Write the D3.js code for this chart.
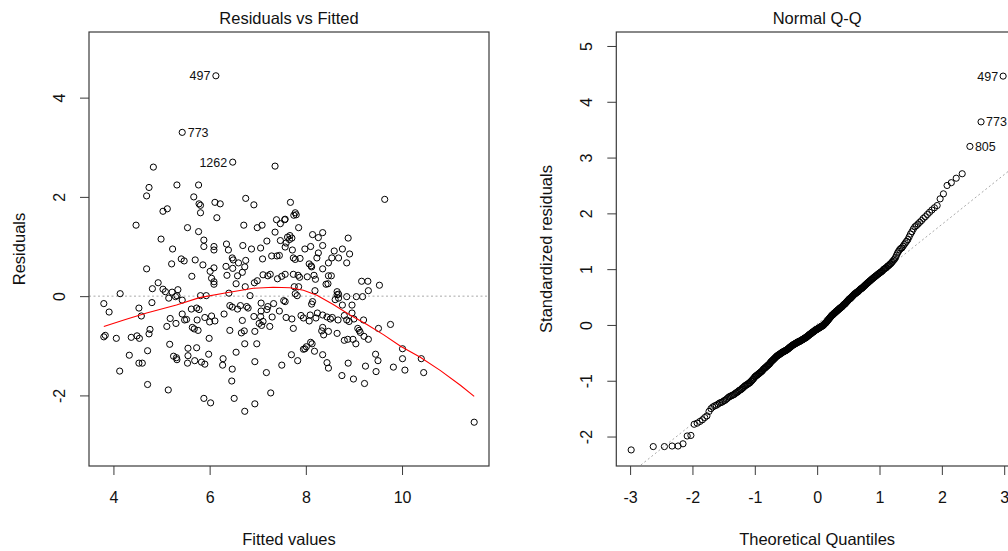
<!DOCTYPE html>
<html>
<head>
<meta charset="utf-8">
<script src="https://cdn.jsdelivr.net/npm/d3@7"></script>
<style>
  html, body { margin: 0; padding: 0; background: #fff; }
  svg { display: block; font-family: "Liberation Sans", Arial, sans-serif; }
</style>
</head>
<body>
<svg id="chart" width="1008" height="551"></svg>
<script>
// ---- Residuals vs Fitted: one entry per observation ----
const fittedValues = [
  6.13, 5.43, 6.48, 4.83, 7.36, 5.32, 5.77, 4.74, 4.69, 5.67, 9.64, 6.75, 5.78, 5.81, 5.81, 6.11,
  6.22, 6.92, 7.68, 5.03, 5.12, 6.15, 7.78, 7.80, 7.75, 7.57, 7.39, 7.56, 7.47, 4.47, 5.54, 6.71,
  6.99, 7.09, 7.85, 5.77, 7.36, 7.67, 7.71, 7.62, 7.66, 8.14, 8.35, 8.26, 8.88, 4.99, 5.88, 7.19,
  7.47, 7.59, 5.88, 6.09, 6.09, 6.35, 6.39, 6.69, 6.87, 7.06, 5.23, 7.98, 8.10, 8.35, 7.57, 7.72,
  8.59, 8.76, 8.91, 8.26, 7.29, 7.40, 7.45, 8.23, 7.74, 7.78, 7.88, 8.54, 8.68, 5.41, 5.70, 7.10,
  6.47, 6.49, 6.75, 5.47, 5.21, 5.86, 6.34, 6.48, 6.60, 6.73, 4.69, 6.09, 6.01, 6.68, 5.63, 6.36,
  6.58, 7.11, 7.21, 7.26, 7.41, 7.50, 7.57, 8.85, 8.47, 8.35, 8.07, 8.11, 8.12, 7.74, 7.84, 7.87,
  8.03, 8.17, 8.20, 8.47, 8.53, 6.04, 6.09, 6.09, 4.93, 6.55, 6.74, 6.99, 6.93, 8.42, 8.46, 9.16,
  9.29, 9.53, 4.81, 5.03, 5.08, 5.22, 5.34, 5.32, 9.30, 8.65, 8.68, 8.19, 7.76, 7.85, 7.78, 7.82,
  4.14, 6.40, 6.84, 5.81, 8.85, 9.05, 9.18, 8.61, 8.68, 8.65, 3.80, 3.91, 4.53, 4.58, 4.80, 5.15,
  5.29, 5.43, 5.93, 5.73, 5.78, 5.62, 5.43, 5.48, 5.52, 5.18, 5.30, 5.11, 5.90, 6.04, 6.00, 6.11,
  5.74, 5.64, 5.68, 5.76, 6.30, 6.42, 6.47, 6.58, 6.64, 6.77, 6.80, 6.42, 6.68, 6.92, 7.06, 7.03,
  7.08, 7.11, 7.25, 7.30, 7.07, 7.19, 7.21, 7.07, 7.33, 7.45, 7.54, 7.57, 7.59, 7.71, 7.90, 7.95,
  8.09, 8.07, 8.21, 8.24, 8.35, 8.44, 8.51, 8.55, 8.67, 8.80, 8.85, 8.90, 8.96, 9.00, 8.76, 8.96,
  8.14, 8.12, 9.20, 7.74, 8.35, 8.33, 9.08, 9.11, 9.51, 9.76, 9.13, 8.65, 8.47, 3.80, 3.83, 4.06,
  4.37, 4.49, 4.54, 4.74, 4.76, 4.71, 4.33, 4.53, 4.60, 5.17, 5.25, 5.31, 5.32, 5.55, 5.55, 5.54,
  5.73, 5.69, 5.83, 5.90, 5.98, 5.99, 6.28, 6.27, 6.47, 6.55, 6.73, 6.98, 6.94, 7.18, 7.50, 6.66,
  6.72, 6.94, 7.70, 7.83, 7.98, 7.95, 8.01, 8.13, 8.10, 8.18, 8.35, 8.44, 8.47, 8.75, 8.88, 8.99,
  9.22, 9.24, 9.45, 9.50, 9.46, 9.82, 10.01, 10.01, 10.06, 10.40, 10.45, 8.37, 8.80, 8.87, 8.98, 9.04,
  9.21, 9.30, 4.13, 4.71, 5.14, 6.46, 5.88, 6.02, 6.51, 6.73, 6.94, 7.27, 11.50
];
const residualValues = [
  4.44, 3.30, 2.70, 2.60, 2.62, 2.24, 2.24, 2.19, 2.02, 2.00, 1.95, 1.97, 1.86, 1.83, 1.68, 1.89,
  1.86, 1.84, 1.89, 1.71, 1.76, 1.58, 1.68, 1.64, 1.63, 1.55, 1.54, 1.54, 1.46, 1.43, 1.38, 1.43,
  1.38, 1.43, 1.38, 1.30, 1.29, 1.22, 1.17, 1.19, 1.14, 1.24, 1.28, 1.18, 1.17, 1.15, 1.13, 1.11,
  1.12, 1.07, 1.00, 1.00, 0.93, 1.05, 0.93, 1.02, 0.95, 0.97, 0.95, 0.95, 1.00, 1.02, 0.99, 0.93,
  0.91, 0.95, 0.85, 0.87, 0.81, 0.81, 0.82, 0.77, 0.77, 0.74, 0.76, 0.77, 0.77, 0.75, 0.73, 0.75,
  0.77, 0.73, 0.72, 0.71, 0.65, 0.63, 0.60, 0.56, 0.67, 0.59, 0.55, 0.57, 0.50, 0.48, 0.40, 0.42,
  0.41, 0.43, 0.41, 0.44, 0.35, 0.40, 0.44, 0.67, 0.67, 0.55, 0.65, 0.61, 0.59, 0.44, 0.42, 0.38,
  0.39, 0.42, 0.34, 0.41, 0.41, 0.36, 0.29, 0.24, 0.27, 0.25, 0.19, 0.31, 0.27, 0.24, 0.25, 0.30,
  0.30, 0.22, 0.15, 0.14, 0.09, 0.08, 0.13, 0.01, 0.11, 0.09, 0.04, 0.11, 0.19, 0.19, 0.05, 0.01,
  0.05, 0.06, 0.01, 0.01, -0.01, -0.01, -0.01, -0.07, -0.04, 0.03, -0.15, -0.32, -0.24, -0.40, -0.13, -0.04,
  -0.01, -0.08, 0.01, -0.24, -0.27, -0.26, -0.36, -0.48, -0.47, -0.45, -0.55, -0.61, -0.43, -0.40, -0.52, -0.50,
  -0.48, -0.63, -0.66, -0.69, -0.36, -0.19, -0.22, -0.26, -0.19, -0.21, -0.24, -0.69, -0.49, -0.41, -0.41, -0.55,
  -0.59, -0.51, -0.61, -0.42, -0.30, -0.27, -0.21, -0.14, -0.15, -0.30, -0.09, -0.11, -0.43, -0.46, -0.39, -0.44,
  -0.38, -0.50, -0.44, -0.34, -0.38, -0.42, -0.46, -0.43, -0.48, -0.39, -0.48, -0.51, -0.34, -0.46, -0.18, -0.18,
  -0.11, -0.16, -0.48, -0.65, -0.63, -0.70, -0.65, -0.69, -0.65, -0.57, -0.73, -0.75, -0.71, -0.82, -0.79, -0.85,
  -0.83, -0.80, -0.85, -0.76, -0.67, -1.10, -1.19, -1.35, -1.35, -0.97, -1.21, -1.24, -1.28, -1.05, -1.20, -1.35,
  -1.04, -1.30, -1.33, -1.37, -1.17, -0.85, -1.26, -1.39, -1.47, -1.13, -0.96, -0.96, -1.32, -1.54, -1.39, -0.74,
  -0.70, -0.71, -1.18, -1.30, -1.06, -1.07, -1.02, -0.96, -0.93, -1.11, -1.18, -1.34, -1.45, -1.60, -1.35, -1.67,
  -1.76, -1.41, -1.17, -1.30, -1.52, -1.43, -1.06, -1.26, -1.49, -1.26, -1.54, -0.78, -0.89, -0.87, -0.87, -0.96,
  -0.81, -0.87, -1.51, -1.78, -1.89, -1.71, -2.06, -2.15, -2.06, -2.32, -2.17, -1.95, -2.54
];
// observations flagged with their row names (indices into the arrays above)
const fittedLabelIndex = [0, 1, 2];
const fittedLabelText = ["497", "773", "1262"];

// smoothed trend through the residuals
const smoothFitted = [3.80, 4.25, 4.69, 5.31, 5.79, 6.35, 6.91, 7.32, 7.67, 7.95, 8.23, 8.57, 8.92, 9.27, 9.62, 9.97, 10.38, 10.80, 11.22, 11.50];
const smoothResidual = [-0.61, -0.47, -0.34, -0.18, -0.03, 0.07, 0.16, 0.18, 0.17, 0.12, 0.02, -0.17, -0.38, -0.57, -0.78, -1.01, -1.23, -1.50, -1.80, -2.02];

// ---- Normal Q-Q: sorted standardized residuals ----
const standardizedResiduals = [
  -2.24, -2.18, -2.18, -2.17, -2.17, -2.13, -1.99, -1.98, -1.78, -1.76,
  -1.73, -1.70, -1.66, -1.63, -1.55, -1.50, -1.47, -1.45, -1.44, -1.42,
  -1.40, -1.39, -1.38, -1.36, -1.35, -1.33, -1.31, -1.29, -1.28, -1.27,
  -1.26, -1.25, -1.24, -1.22, -1.21, -1.20, -1.18, -1.17, -1.16, -1.15,
  -1.13, -1.12, -1.10, -1.09, -1.08, -1.07, -1.06, -1.05, -1.04, -1.03,
  -1.01, -1.00, -0.98, -0.97, -0.95, -0.93, -0.92, -0.91, -0.90, -0.89,
  -0.88, -0.87, -0.86, -0.85, -0.84, -0.83, -0.82, -0.80, -0.79, -0.78,
  -0.77, -0.76, -0.75, -0.74, -0.73, -0.72, -0.71, -0.70, -0.69, -0.67,
  -0.66, -0.65, -0.64, -0.63, -0.62, -0.61, -0.60, -0.59, -0.58, -0.57,
  -0.56, -0.55, -0.55, -0.54, -0.53, -0.53, -0.52, -0.51, -0.51, -0.50,
  -0.49, -0.49, -0.48, -0.48, -0.47, -0.47, -0.46, -0.46, -0.45, -0.45,
  -0.44, -0.43, -0.43, -0.42, -0.41, -0.40, -0.40, -0.39, -0.38, -0.38,
  -0.37, -0.36, -0.36, -0.35, -0.35, -0.34, -0.34, -0.33, -0.33, -0.32,
  -0.32, -0.31, -0.31, -0.30, -0.30, -0.30, -0.29, -0.29, -0.28, -0.28,
  -0.27, -0.27, -0.26, -0.26, -0.25, -0.25, -0.24, -0.24, -0.23, -0.23,
  -0.22, -0.22, -0.21, -0.20, -0.20, -0.19, -0.18, -0.18, -0.17, -0.16,
  -0.16, -0.15, -0.15, -0.14, -0.13, -0.13, -0.12, -0.12, -0.11, -0.10,
  -0.10, -0.09, -0.09, -0.08, -0.08, -0.07, -0.07, -0.06, -0.06, -0.05,
  -0.05, -0.04, -0.04, -0.03, -0.03, -0.02, -0.02, -0.01, -0.01, 0.00,
  0.01, 0.02, 0.03, 0.03, 0.04, 0.05, 0.06, 0.07, 0.08, 0.09,
  0.10, 0.11, 0.12, 0.13, 0.14, 0.15, 0.16, 0.17, 0.18, 0.18,
  0.19, 0.20, 0.21, 0.21, 0.22, 0.23, 0.24, 0.24, 0.25, 0.26,
  0.27, 0.27, 0.28, 0.29, 0.30, 0.30, 0.31, 0.32, 0.32, 0.33,
  0.34, 0.35, 0.36, 0.37, 0.37, 0.38, 0.39, 0.40, 0.41, 0.42,
  0.43, 0.44, 0.45, 0.46, 0.47, 0.47, 0.48, 0.49, 0.50, 0.51,
  0.52, 0.53, 0.54, 0.55, 0.56, 0.56, 0.57, 0.58, 0.59, 0.59,
  0.60, 0.61, 0.62, 0.63, 0.64, 0.65, 0.65, 0.66, 0.67, 0.68,
  0.69, 0.70, 0.71, 0.72, 0.73, 0.74, 0.75, 0.76, 0.77, 0.78,
  0.79, 0.80, 0.81, 0.82, 0.83, 0.84, 0.85, 0.86, 0.87, 0.88,
  0.89, 0.90, 0.91, 0.92, 0.93, 0.94, 0.95, 0.96, 0.97, 0.99,
  1.00, 1.01, 1.02, 1.03, 1.05, 1.06, 1.07, 1.09, 1.10, 1.12,
  1.14, 1.16, 1.18, 1.21, 1.25, 1.29, 1.32, 1.35, 1.37, 1.38,
  1.41, 1.44, 1.47, 1.50, 1.53, 1.58, 1.63, 1.67, 1.72, 1.76,
  1.78, 1.81, 1.84, 1.87, 1.91, 1.94, 1.98, 2.02, 2.06, 2.10,
  2.14, 2.26, 2.35, 2.50, 2.55, 2.63, 2.71, 3.20, 3.64, 4.46
];
const qqLabelRank = [349, 348, 347];
const qqLabelText = ["497", "773", "805"];

// ---- axis ticks and captions ----
const fittedTicksX = [4, 6, 8, 10];
const fittedTicksY = [-2, 0, 2, 4];
const qqTicksX = [-3, -2, -1, 0, 1, 2, 3];
const qqTicksY = [-2, -1, 0, 1, 2, 3, 4, 5];
const titles = ["Residuals vs Fitted", "Normal Q-Q"];
const xTitles = ["Fitted values", "Theoretical Quantiles"];
const yTitles = ["Residuals", "Standardized residuals"];

// ---------------------------------------------------------------
const FONT = "Liberation Sans, Arial, sans-serif";
const INK = "#111";
const FRAME = "#3a3a3a";
const svg = d3.select("#chart");
svg.append("rect").attr("width", 1008).attr("height", 551).attr("fill", "#fff");

// standard normal quantile (Acklam's rational approximation)
function qnorm(p) {
  const a = [-3.969683028665376e+01, 2.209460984245205e+02, -2.759285104469687e+02, 1.383577518672690e+02, -3.066479806614716e+01, 2.506628277459239e+00];
  const b = [-5.447609879822406e+01, 1.615858368580409e+02, -1.556989798598866e+02, 6.680131188771972e+01, -1.328068155288572e+01];
  const c = [-7.784894002430293e-03, -3.223964580411365e-01, -2.400758277161838e+00, -2.549732539343734e+00, 4.374664141464968e+00, 2.938163982698783e+00];
  const d = [7.784695709041462e-03, 3.224671290700398e-01, 2.445134137142996e+00, 3.754408661907416e+00];
  const pl = 0.02425;
  if (p < pl) {
    const q = Math.sqrt(-2 * Math.log(p));
    return (((((c[0]*q+c[1])*q+c[2])*q+c[3])*q+c[4])*q+c[5]) / ((((d[0]*q+d[1])*q+d[2])*q+d[3])*q+1);
  }
  if (p <= 1 - pl) {
    const q = p - 0.5, r = q * q;
    return (((((a[0]*r+a[1])*r+a[2])*r+a[3])*r+a[4])*r+a[5])*q / (((((b[0]*r+b[1])*r+b[2])*r+b[3])*r+b[4])*r+1);
  }
  const q = Math.sqrt(-2 * Math.log(1 - p));
  return -(((((c[0]*q+c[1])*q+c[2])*q+c[3])*q+c[4])*q+c[5]) / ((((d[0]*q+d[1])*q+d[2])*q+d[3])*q+1);
}

// widen a range by a fraction on both sides (base-graphics style limits)
function extend([lo, hi], f) { const d = (hi - lo) * f; return [lo - d, hi + d]; }

function panel(box, xScale, yScale, ticksX, ticksY, title, xTitle, yTitle) {
  const g = svg.append("g");
  const cx = (box.x0 + box.x1) / 2, cy = (box.y0 + box.y1) / 2;

  const ax = g.append("g").attr("transform", `translate(0,${box.y1})`)
    .call(d3.axisBottom(xScale).tickValues(ticksX).tickSize(9).tickFormat(d3.format("d")));
  ax.select(".domain").remove();
  ax.attr("font-family", FONT).attr("font-size", 16).attr("color", FRAME);
  ax.selectAll(".tick text").attr("y", 37).attr("dy", null).attr("fill", INK)
    .text(d => d < 0 ? "-" + Math.abs(d) : d);

  const ay = g.append("g").attr("transform", `translate(${box.x0},0)`)
    .call(d3.axisLeft(yScale).tickValues(ticksY).tickSize(9));
  ay.select(".domain").remove();
  ay.attr("font-family", FONT).attr("font-size", 16).attr("color", FRAME);
  ay.selectAll(".tick text").attr("x", 0).attr("dy", null).attr("fill", INK)
    .attr("text-anchor", "middle").attr("transform", "translate(-24,0) rotate(-90)")
    .text(d => d < 0 ? "-" + Math.abs(d) : d);

  g.append("text").attr("x", cx).attr("y", 24.3).attr("text-anchor", "middle")
    .attr("font-family", FONT).attr("font-size", 16.5).attr("fill", INK).text(title);
  g.append("text").attr("x", cx).attr("y", 545).attr("text-anchor", "middle")
    .attr("font-family", FONT).attr("font-size", 16.5).attr("fill", INK).text(xTitle);
  g.append("text").attr("transform", `translate(${box.x0 - 64.5},${cy}) rotate(-90)`)
    .attr("text-anchor", "middle").attr("font-family", FONT).attr("font-size", 16.5)
    .attr("fill", INK).text(yTitle);

  const clipId = "clip" + Math.round(box.x0);
  svg.append("clipPath").attr("id", clipId).append("rect")
    .attr("x", box.x0).attr("y", box.y0).attr("width", box.x1 - box.x0).attr("height", box.y1 - box.y0);
  const plot = g.append("g").attr("clip-path", `url(#${clipId})`);
  return { g, plot, box };
}

// ---------- left panel ----------
const boxL = { x0: 89, x1: 489, y0: 32, y1: 466 };
const xL = d3.scaleLinear().domain(extend(d3.extent(fittedValues), 0.04)).range([boxL.x0, boxL.x1]);
const yL = d3.scaleLinear().domain(extend(extend(d3.extent(residualValues), 0.08), 0.04)).range([boxL.y1, boxL.y0]);
const pL = panel(boxL, xL, yL, fittedTicksX, fittedTicksY, titles[0], xTitles[0], yTitles[0]);

pL.plot.append("line").attr("x1", boxL.x0).attr("x2", boxL.x1).attr("y1", yL(0)).attr("y2", yL(0))
  .attr("stroke", "#a8a8a8").attr("stroke-width", 1).attr("stroke-dasharray", "2,2.5");

pL.plot.append("g").selectAll("circle").data(d3.range(fittedValues.length)).join("circle")
  .attr("cx", i => xL(fittedValues[i])).attr("cy", i => yL(residualValues[i])).attr("r", 3.1)
  .attr("fill", "none").attr("stroke", "#000").attr("stroke-width", 1);

pL.plot.append("path")
  .datum(d3.range(smoothFitted.length))
  .attr("d", d3.line().x(i => xL(smoothFitted[i])).y(i => yL(smoothResidual[i])))
  .attr("fill", "none").attr("stroke", "#ff0000").attr("stroke-width", 1.1);

const labelSideL = [-1, 1, -1];
fittedLabelIndex.forEach((idx, k) => {
  pL.g.append("text")
    .attr("x", xL(fittedValues[idx]) + labelSideL[k] * 5.5)
    .attr("y", yL(residualValues[idx]))
    .attr("dy", "0.36em")
    .attr("text-anchor", labelSideL[k] < 0 ? "end" : "start")
    .attr("font-family", FONT).attr("font-size", 12.5).attr("fill", INK)
    .text(fittedLabelText[k]);
});

pL.g.append("rect").attr("x", boxL.x0).attr("y", boxL.y0)
  .attr("width", boxL.x1 - boxL.x0).attr("height", boxL.y1 - boxL.y0)
  .attr("fill", "none").attr("stroke", FRAME).attr("stroke-width", 1.2);

// ---------- right panel ----------
const n = standardizedResiduals.length;
const theoretical = d3.range(n).map(i => qnorm((i + 0.5) / n));
const boxR = { x0: 616.3, x1: 1018, y0: 32, y1: 466 };
const xR = d3.scaleLinear().domain(extend(d3.extent(theoretical), 0.04)).range([boxR.x0, boxR.x1]);
const ext = d3.extent(standardizedResiduals);
const yR = d3.scaleLinear().domain(extend([ext[0], ext[1] + (ext[1] - ext[0]) * 0.075], 0.04)).range([boxR.y1, boxR.y0]);
const pR = panel(boxR, xR, yR, qqTicksX, qqTicksY, titles[1], xTitles[1], yTitles[1]);

// reference line through the quartiles
const q1 = d3.quantile(standardizedResiduals, 0.25), q3 = d3.quantile(standardizedResiduals, 0.75);
const slope = (q3 - q1) / (qnorm(0.75) - qnorm(0.25));
const intercept = q1 - slope * qnorm(0.25);
const xd = xR.domain();
pR.plot.append("line")
  .attr("x1", xR(xd[0])).attr("y1", yR(intercept + slope * xd[0]))
  .attr("x2", xR(xd[1])).attr("y2", yR(intercept + slope * xd[1]))
  .attr("stroke", "#a8a8a8").attr("stroke-width", 1).attr("stroke-dasharray", "2,2.5");

pR.plot.append("g").selectAll("circle").data(d3.range(n)).join("circle")
  .attr("cx", i => xR(theoretical[i])).attr("cy", i => yR(standardizedResiduals[i])).attr("r", 3.1)
  .attr("fill", "none").attr("stroke", "#000").attr("stroke-width", 1);

const labelSideR = [-1, 1, 1];
qqLabelRank.forEach((idx, k) => {
  pR.g.append("text")
    .attr("x", xR(theoretical[idx]) + labelSideR[k] * 5)
    .attr("y", yR(standardizedResiduals[idx]))
    .attr("dy", "0.36em")
    .attr("text-anchor", labelSideR[k] < 0 ? "end" : "start")
    .attr("font-family", FONT).attr("font-size", 12.5).attr("fill", INK)
    .text(qqLabelText[k]);
});

pR.g.append("rect").attr("x", boxR.x0).attr("y", boxR.y0)
  .attr("width", boxR.x1 - boxR.x0).attr("height", boxR.y1 - boxR.y0)
  .attr("fill", "none").attr("stroke", FRAME).attr("stroke-width", 1.2);
</script>
</body>
</html>
